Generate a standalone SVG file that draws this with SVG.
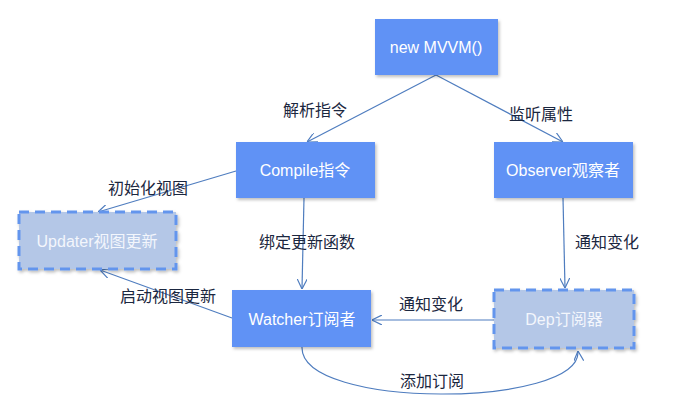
<svg xmlns="http://www.w3.org/2000/svg" width="685" height="409" viewBox="0 0 685 409">
<defs>
<style>
.solid{fill:#6092F5;}
.dash{fill:#B4C7E7;stroke:#6495ED;stroke-width:3;stroke-dasharray:10 6;}
.nt{font-family:"Liberation Sans","Noto Sans CJK SC",sans-serif;font-size:16px;fill:#ffffff;text-anchor:middle;dominant-baseline:central;}
.nt2{font-family:"Liberation Sans","Noto Sans CJK SC",sans-serif;font-size:16px;fill:#F3F6FC;text-anchor:middle;dominant-baseline:central;}
.lb{font-family:"Noto Sans CJK SC",sans-serif;font-size:16px;fill:#1B2740;text-anchor:middle;dominant-baseline:central;}
.ln{fill:none;stroke:#4F7DBF;stroke-width:1.2;marker-end:url(#arr);}
</style>
<marker id="arr" viewBox="0 0 10 10" refX="10" refY="5" markerWidth="10" markerHeight="10" markerUnits="userSpaceOnUse" orient="auto">
<path d="M0,0 L10,5 L0,10" fill="none" stroke="#4F7DBF" stroke-width="1.2"/>
</marker>
<filter id="sh" x="-10%" y="-10%" width="125%" height="130%">
<feDropShadow dx="1.5" dy="2" stdDeviation="1.5" flood-color="#000" flood-opacity="0.25"/>
</filter>
</defs>
<g id="connectors">
<line class="ln" x1="436" y1="75" x2="307" y2="142"/>
<line class="ln" x1="436" y1="75" x2="563" y2="142"/>
<line class="ln" x1="236" y1="171" x2="98" y2="212"/>
<line class="ln" x1="304" y1="198" x2="302" y2="289"/>
<line class="ln" x1="563" y1="198" x2="565" y2="288"/>
<line class="ln" x1="494" y1="320" x2="372" y2="320"/>
<line class="ln" x1="232" y1="318" x2="100" y2="270"/>
<path class="ln" d="M302,347 C300,410 582,408 578,351"/>
</g>
<g id="mvvm"><rect class="solid" x="375" y="19" width="123" height="56" filter="url(#sh)"/><text class="nt" x="436" y="47">new MVVM()</text></g>
<g id="compile"><rect class="solid" x="236" y="142" width="139" height="56" filter="url(#sh)"/><text class="nt" x="305" y="170">Compile指令</text></g>
<g id="observer"><rect class="solid" x="494" y="142" width="139" height="56" filter="url(#sh)"/><text class="nt" x="563" y="170">Observer观察者</text></g>
<g id="updater"><rect class="dash" x="19" y="212" width="157" height="57" filter="url(#sh)"/><text class="nt2" x="97" y="241">Updater视图更新</text></g>
<g id="watcher"><rect class="solid" x="232" y="290" width="139" height="57" filter="url(#sh)"/><text class="nt" x="302" y="319">Watcher订阅者</text></g>
<g id="dep"><rect class="dash" x="494" y="290" width="140" height="58" filter="url(#sh)"/><text class="nt2" x="564" y="319">Dep订阅器</text></g>
<g id="labels">
<text class="lb" x="315" y="109">解析指令</text>
<text class="lb" x="541" y="113">监听属性</text>
<text class="lb" x="148" y="187">初始化视图</text>
<text class="lb" x="307" y="241">绑定更新函数</text>
<text class="lb" x="607" y="241">通知变化</text>
<text class="lb" x="168" y="295">启动视图更新</text>
<text class="lb" x="431" y="303">通知变化</text>
<text class="lb" x="432" y="380">添加订阅</text>
</g>
</svg>
